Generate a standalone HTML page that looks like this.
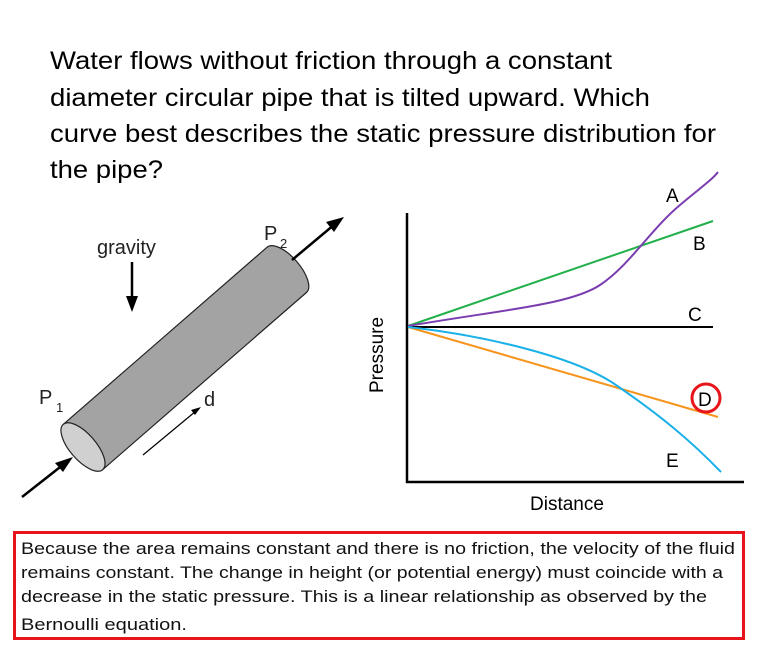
<!DOCTYPE html>
<html><head><meta charset="utf-8"><style>
html,body{margin:0;padding:0;background:#fff;}
svg{display:block;}
text{font-family:"Liberation Sans",Arial,sans-serif;}
</style></head><body>
<svg width="768" height="657" viewBox="0 0 768 657" xmlns="http://www.w3.org/2000/svg">
<g font-size="25" fill="#000">
<text x="50" y="69" textLength="562" lengthAdjust="spacingAndGlyphs">Water flows without friction through a constant</text>
<text x="50" y="106" textLength="600" lengthAdjust="spacingAndGlyphs">diameter circular pipe that is tilted upward. Which</text>
<text x="50" y="142" textLength="666" lengthAdjust="spacingAndGlyphs">curve best describes the static pressure distribution for</text>
<text x="50" y="178" textLength="113" lengthAdjust="spacingAndGlyphs">the pipe?</text>
</g>
<!-- pipe -->
<g transform="rotate(-41 83 447)">
<path d="M83 417 L353 417 A13 30 0 0 1 353 477 L83 477 Z" fill="#a3a3a3" stroke="#222" stroke-width="1.2"/>
<ellipse cx="83" cy="447" rx="13" ry="30" fill="#d0d0d0" stroke="#222" stroke-width="1.2"/>
</g>
<!-- arrows -->
<g stroke="#000" fill="#000">
<line x1="22" y1="497" x2="64" y2="464" stroke-width="2.5"/>
<polygon points="73,457 55,463 63,472" stroke="none"/>
<line x1="292" y1="260" x2="335" y2="224" stroke-width="2.5"/>
<polygon points="344,217 326,222 334,232" stroke="none"/>
<line x1="132" y1="262" x2="132" y2="300" stroke-width="2.5"/>
<polygon points="132,312 126,296 138,296" stroke="none"/>
<line x1="143" y1="455" x2="196" y2="411" stroke-width="1.2"/>
<polygon points="201,407 191,410 195,415" stroke="none"/>
</g>
<g font-size="20" fill="#222">
<text x="97" y="254">gravity</text>
<text x="264" y="240">P</text><text x="280" y="248" font-size="13">2</text>
<text x="39" y="404">P</text><text x="56" y="412" font-size="13">1</text>
<text x="204" y="406">d</text>
</g>
<!-- chart -->
<line x1="407" y1="213" x2="407" y2="483" stroke="#000" stroke-width="2.5"/>
<line x1="406" y1="482" x2="744" y2="482" stroke="#000" stroke-width="2.5"/>
<line x1="408" y1="327" x2="713" y2="327" stroke="#000" stroke-width="2"/>
<line x1="408" y1="326" x2="713" y2="221" stroke="#22b04a" stroke-width="2"/>
<path d="M408 326 C500 310 570 305 600 285 C630 265 650 230 680 205 C700 188 712 180 718 172" fill="none" stroke="#7a3db0" stroke-width="2"/>
<line x1="408" y1="327" x2="718" y2="417" stroke="#f7941d" stroke-width="2"/>
<path d="M408 327 C480 335 570 355 613 383 C660 415 690 440 721 472" fill="none" stroke="#1ab0e8" stroke-width="2"/>
<circle cx="706" cy="398" r="14" fill="none" stroke="#e8141c" stroke-width="3"/>
<g font-size="19" fill="#000">
<text x="666" y="202">A</text>
<text x="693" y="250">B</text>
<text x="688" y="321">C</text>
<text x="698" y="406">D</text>
<text x="666" y="467">E</text>
<text x="530" y="510">Distance</text>
<text transform="translate(383 393) rotate(-90)">Pressure</text>
</g>
<!-- explanation box -->
<rect x="14.5" y="532.5" width="729" height="106" fill="none" stroke="#e8141c" stroke-width="3"/>
<g font-size="16.5" fill="#111">
<text x="21" y="554" textLength="714" lengthAdjust="spacingAndGlyphs">Because the area remains constant and there is no friction, the velocity of the fluid</text>
<text x="21" y="578" textLength="702" lengthAdjust="spacingAndGlyphs">remains constant. The change in height (or potential energy) must coincide with a</text>
<text x="21" y="602" textLength="686" lengthAdjust="spacingAndGlyphs">decrease in the static pressure. This is a linear relationship as observed by the</text>
<text x="21" y="630" textLength="166" lengthAdjust="spacingAndGlyphs">Bernoulli equation.</text>
</g>
</svg>
</body></html>
